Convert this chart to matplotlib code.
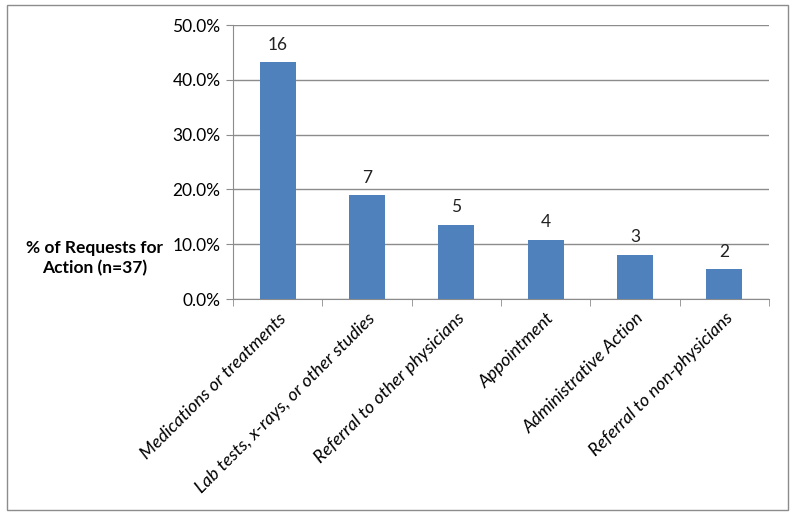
import matplotlib
matplotlib.use("Agg")
import matplotlib.pyplot as plt
from matplotlib.patches import Rectangle
from matplotlib.ticker import FuncFormatter, MultipleLocator

categories = ["Medications or treatments", "Lab tests, x-rays, or other studies",
              "Referral to other physicians", "Appointment",
              "Administrative Action", "Referral to non-physicians"]
percent = [43.2, 18.9, 13.5, 10.8, 8.1, 5.4]
counts = [16, 7, 5, 4, 3, 2]

plt.rcParams['font.family'] = ['Lato', 'DejaVu Sans']

W, H = 795, 516
fig = plt.figure(figsize=(W / 100, H / 100), dpi=100)
fig.patches.append(Rectangle((7 / W, 1 - 510 / H), 781 / W, 505 / H,
                             transform=fig.transFigure, fill=False,
                             edgecolor="#8c8c8c", linewidth=1.0))

ax = fig.add_axes([233 / W, 1 - 299 / H, 536 / W, 274 / H])
x = list(range(len(categories)))
bars = ax.bar(x, percent, width=0.4, color="#4f81bd", zorder=3)
for b, c in zip(bars, counts):
    ax.annotate(str(c), (b.get_x() + b.get_width() / 2, b.get_height()),
                xytext=(0, 7), textcoords="offset points",
                ha="center", va="bottom", fontsize=12.5, color="#222222")

ax.set_xlim(-0.5, len(categories) - 0.5)
ax.set_ylim(0, 50)
ax.yaxis.set_major_locator(MultipleLocator(10))
ax.yaxis.set_major_formatter(FuncFormatter(lambda v, p: f"{v:.1f}%"))
ax.grid(axis="y", color="#8c8c8c", linewidth=1.0, zorder=0)
for s in ["top", "right"]:
    ax.spines[s].set_visible(False)
for s in ["left", "bottom"]:
    ax.spines[s].set_color("#8c8c8c")
ax.tick_params(axis="y", length=5, color="#8c8c8c", labelsize=12.5, pad=4)
ax.tick_params(axis="x", which="major", length=0, pad=8)
ax.set_xticks(x)
ax.set_xticklabels(categories, rotation=45, ha="right", rotation_mode="anchor",
                   fontsize=13, style="italic")
ax.set_xticks([i + 0.5 for i in range(-1, len(categories))], minor=True)
ax.tick_params(axis="x", which="minor", length=5, color="#8c8c8c")

fig.text(95 / W, 1 - 258 / H, "% of Requests for\nAction (n=37)", ha="center",
         va="center", fontsize=12.5, fontweight="bold", linespacing=1.3)

fig.savefig("out.png", dpi=100)
